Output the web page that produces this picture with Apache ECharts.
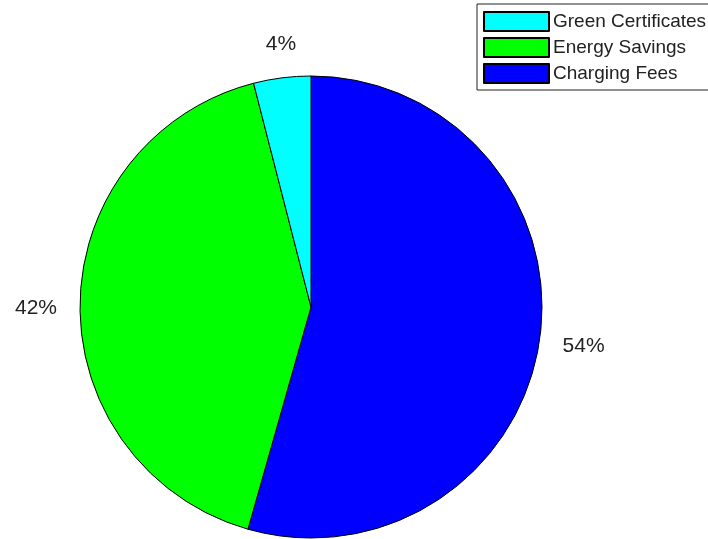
<!DOCTYPE html>
<html>
<head>
<meta charset="utf-8">
<script src="https://cdn.jsdelivr.net/npm/echarts@6/dist/echarts.min.js"></script>
<style>
  html, body { margin: 0; padding: 0; background: #fff; }
  #chart { width: 708px; height: 539px; }
</style>
</head>
<body>
<div id="chart"></div>
<script>
// slice data (clockwise from top)
const categories = ["Charging Fees", "Energy Savings", "Green Certificates"];
const values = [54.4, 41.6, 4.0];
const colors = ["#0000ff", "#00ff00", "#00ffff"];
// legend shows them in reverse order
const legendOrder = ["Green Certificates", "Energy Savings", "Charging Fees"];

const chart = echarts.init(document.getElementById("chart"));

const option = {
  backgroundColor: "#fff",
  animation: false,
  legend: {
    data: legendOrder,
    orient: "vertical",
    left: 477,
    top: 4,
    padding: [7, 6, 6, 6],
    itemWidth: 65,
    itemHeight: 19,
    itemGap: 5,
    icon: "rect",
    backgroundColor: "#fff",
    borderColor: "#222",
    borderWidth: 1,
    borderRadius: 0,
    textStyle: {
      fontFamily: "Liberation Sans",
      fontSize: 19,
      lineHeight: 19,
      color: "#222",
      padding: [0, 0, 0, -1],
    },
  },
  series: [
    {
      type: "pie",
      center: [311, 307],
      radius: 231,
      startAngle: 90,
      clockwise: true,
      data: categories.map((name, i) => ({
        name: name,
        value: values[i],
        itemStyle: { color: colors[i] },
      })),
      itemStyle: { borderColor: "#000", borderWidth: 1 },
      label: {
        show: true,
        position: "outside",
        distanceToLabelLine: 0,
        fontFamily: "Liberation Sans",
        fontSize: 21,
        color: "#222",
        formatter: (p) => Math.round(p.percent) + "%",
      },
      labelLine: { show: false, length: 23, length2: 0 },
      // small slice label sits centred above its slice
      labelLayout: function (p) {
        if (p.dataIndex === 2) return { dx: 17, dy: -11 };
        return { dy: 4 };
      },
      emphasis: { disabled: true },
    },
  ],
};

chart.setOption(option);
</script>
</body>
</html>
